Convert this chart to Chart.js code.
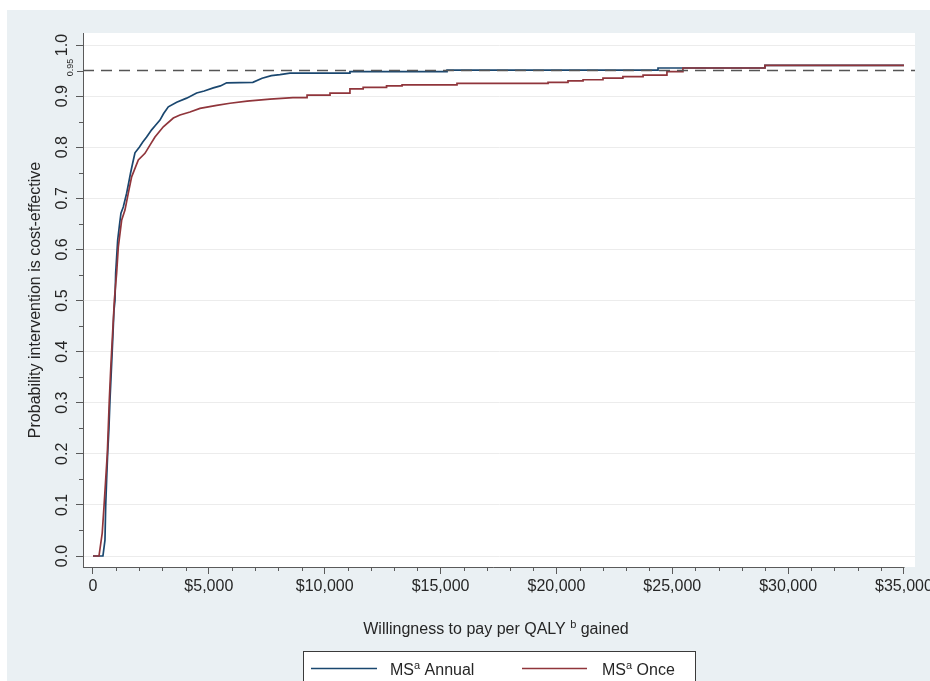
<!DOCTYPE html>
<html>
<head>
<meta charset="utf-8">
<title>Cost-effectiveness acceptability curves</title>
<script src="https://cdn.jsdelivr.net/npm/chart.js@4.4.1/dist/chart.umd.min.js"></script>
<style>
  html, body { margin: 0; padding: 0; background: #ffffff; }
  canvas { display: block; }
</style>
</head>
<body>
<canvas id="ceac" width="930" height="681"></canvas>
<script>
// Curve vertices: willingness to pay ($ per QALY) and the probability that the
// intervention is cost-effective. Where a threshold appears twice, the curve
// steps up at that threshold.
const annualWtp = [0, 430, 518, 548, 590, 634, 690, 734, 800, 860, 906, 950, 980, 1066, 1150, 1208, 1308, 1453, 1540, 1625, 1720, 1813, 2000, 2150, 2316, 2532, 2700, 2892, 3050, 3252, 3612, 4043, 4475, 4800, 5193, 5500, 5770, 6900, 7300, 7700, 8070, 8500, 11090, 11090, 15280, 15280, 24385, 24385, 29000, 29000, 35000];
const annualProb = [0, 0, 0.031, 0.096, 0.15, 0.2, 0.25, 0.305, 0.37, 0.43, 0.48, 0.5, 0.554, 0.618, 0.65, 0.671, 0.683, 0.71, 0.73, 0.75, 0.77, 0.789, 0.8, 0.81, 0.82, 0.834, 0.843, 0.853, 0.866, 0.879, 0.888, 0.896, 0.906, 0.91, 0.916, 0.92, 0.926, 0.927, 0.935, 0.94, 0.942, 0.945, 0.945, 0.948, 0.948, 0.951, 0.951, 0.955, 0.955, 0.96, 0.96];

const onceWtp = [0, 260, 400, 475, 550, 619, 660, 705, 770, 840, 900, 921, 1022, 1094, 1237, 1381, 1525, 1669, 1957, 2244, 2460, 2676, 3036, 3468, 3755, 4187, 4618, 5338, 5913, 6650, 7640, 8630, 9240, 9240, 10230, 10230, 11090, 11090, 11660, 11660, 12670, 12670, 13340, 13340, 15710, 15710, 19640, 19640, 20500, 20500, 21150, 21150, 22010, 22010, 22870, 22870, 23740, 23740, 24770, 24770, 25460, 25460, 29000, 29000, 35000];
const onceProb = [0, 0, 0.045, 0.096, 0.15, 0.2, 0.25, 0.305, 0.37, 0.43, 0.48, 0.5, 0.554, 0.605, 0.657, 0.677, 0.71, 0.742, 0.775, 0.788, 0.804, 0.82, 0.84, 0.857, 0.863, 0.869, 0.876, 0.882, 0.886, 0.89, 0.894, 0.897, 0.897, 0.902, 0.902, 0.906, 0.906, 0.914, 0.914, 0.917, 0.917, 0.92, 0.92, 0.922, 0.922, 0.925, 0.925, 0.927, 0.927, 0.93, 0.93, 0.932, 0.932, 0.935, 0.935, 0.938, 0.938, 0.941, 0.941, 0.948, 0.948, 0.955, 0.955, 0.96, 0.96];

const seriesNames = ['Annual', 'Once'];
const threshold = 0.95;

const xTicks = [0, 5000, 10000, 15000, 20000, 25000, 30000, 35000];
const xMinorTicks = [1000, 2000, 3000, 4000, 6000, 7000, 8000, 9000, 11000, 12000, 13000, 14000, 16000, 17000, 18000, 19000, 21000, 22000, 23000, 24000, 26000, 27000, 28000, 29000, 31000, 32000, 33000, 34000];
const yTicks = [0, 0.1, 0.2, 0.3, 0.4, 0.5, 0.6, 0.7, 0.8, 0.9, 1.0];
const yMinorTicks = [0.05, 0.15, 0.25, 0.35, 0.45, 0.55, 0.65, 0.75, 0.85, 0.95];

const xMin = -430, xMax = 35475;
const yMin = -0.0215, yMax = 1.0235;

const FONT = "'Liberation Sans', Arial, Helvetica, sans-serif";
const TEXT = '#262626';
const AXIS = '#5a5a5a';
const BLUE = '#1a476f';
const RED = '#90353b';

const pairs = (xs, ys) => xs.map((x, i) => ({ x: x, y: ys[i] }));

// Writes a run of text pieces; pieces with `raise` are set as superscripts.
function drawSuperText(ctx, parts, x, y) {
  let cx = x;
  parts.forEach(p => {
    ctx.font = p.size + 'px ' + FONT;
    ctx.fillText(p.text, cx, y - (p.raise || 0));
    cx += ctx.measureText(p.text).width;
  });
  return cx;
}
function superWidth(ctx, parts) {
  let w = 0;
  parts.forEach(p => { ctx.font = p.size + 'px ' + FONT; w += ctx.measureText(p.text).width; });
  return w;
}

const framePlugin = {
  id: 'frame',
  beforeDraw(chart) {
    const { ctx, chartArea: a } = chart;
    ctx.save();
    ctx.fillStyle = '#ffffff';
    ctx.fillRect(0, 0, chart.width, chart.height);
    ctx.fillStyle = 'rgb(234,240,243)';
    ctx.fillRect(7, 10, chart.width - 7, chart.height - 10);
    ctx.fillStyle = '#ffffff';
    ctx.fillRect(a.left, a.top, a.right - a.left, a.bottom - a.top);
    ctx.restore();
  },
  afterDraw(chart) {
    const { ctx, chartArea: a } = chart;
    const xs = chart.scales.x, ys = chart.scales.y;
    ctx.save();
    // x axis line, from the plot edge to the last labelled tick
    ctx.strokeStyle = AXIS;
    ctx.lineWidth = 1;
    ctx.beginPath();
    ctx.moveTo(a.left, a.bottom + 0.5);
    ctx.lineTo(Math.round(xs.getPixelForValue(xTicks[xTicks.length - 1])) + 0.5, a.bottom + 0.5);
    ctx.stroke();
    // minor ticks
    ctx.beginPath();
    xMinorTicks.forEach(v => {
      const px = Math.round(xs.getPixelForValue(v)) + 0.5;
      ctx.moveTo(px, a.bottom);
      ctx.lineTo(px, a.bottom + 4);
    });
    yMinorTicks.forEach(v => {
      const py = Math.round(ys.getPixelForValue(v)) + 0.5;
      ctx.moveTo(a.left, py);
      ctx.lineTo(a.left - (v === threshold ? 6 : 4), py);
    });
    ctx.stroke();

    // small label for the 0.95 reference level
    ctx.fillStyle = TEXT;
    ctx.font = '9px ' + FONT;
    ctx.textAlign = 'center';
    ctx.textBaseline = 'middle';
    ctx.translate(71, ys.getPixelForValue(threshold) - 3);
    ctx.rotate(-Math.PI / 2);
    ctx.fillText(threshold.toFixed(2), 0, 0);
    ctx.restore();

    // x axis title with superscript
    ctx.save();
    ctx.fillStyle = TEXT;
    ctx.textBaseline = 'alphabetic';
    ctx.textAlign = 'left';
    const title = [
      { text: 'Willingness to pay per QALY ', size: 16 },
      { text: 'b', size: 11, raise: 6 },
      { text: ' gained', size: 16 }
    ];
    const tw = superWidth(ctx, title);
    drawSuperText(ctx, title, (a.left + a.right) / 2 - tw / 2 - 3, 634);

    // legend box
    ctx.fillStyle = '#ffffff';
    ctx.fillRect(303.5, 651.5, 392, 40);
    ctx.strokeStyle = '#3a3a3a';
    ctx.lineWidth = 1;
    ctx.strokeRect(303.5, 651.5, 392, 40);
    const items = [
      { color: BLUE, x0: 311, x1: 377, tx: 390, name: seriesNames[0] },
      { color: RED, x0: 522, x1: 587, tx: 602, name: seriesNames[1] }
    ];
    items.forEach(it => {
      ctx.strokeStyle = it.color;
      ctx.lineWidth = 1.6;
      ctx.beginPath();
      ctx.moveTo(it.x0, 668.5);
      ctx.lineTo(it.x1, 668.5);
      ctx.stroke();
      ctx.fillStyle = TEXT;
      drawSuperText(ctx, [
        { text: 'MS', size: 16 },
        { text: 'a', size: 11, raise: 6 },
        { text: ' ' + it.name, size: 16 }
      ], it.tx, 675);
    });
    ctx.restore();
  }
};

new Chart(document.getElementById('ceac'), {
  type: 'line',
  data: {
    datasets: [
      {
        label: 'MS Annual',
        data: pairs(annualWtp, annualProb),
        borderColor: BLUE,
        borderWidth: 1.7,
        pointRadius: 0,
        tension: 0,
        fill: false,
        order: 2
      },
      {
        label: 'MS Once',
        data: pairs(onceWtp, onceProb),
        borderColor: RED,
        borderWidth: 1.7,
        pointRadius: 0,
        tension: 0,
        fill: false,
        order: 1
      },
      {
        label: 'Threshold',
        data: [{ x: xMin, y: threshold }, { x: xMax, y: threshold }],
        borderColor: '#555555',
        borderWidth: 1.4,
        borderDash: [11, 7],
        pointRadius: 0,
        fill: false,
        order: 0
      }
    ]
  },
  options: {
    responsive: false,
    animation: false,
    devicePixelRatio: 1,
    layout: { padding: { top: 33, right: 15, left: 0, bottom: 0 } },
    plugins: {
      legend: { display: false },
      tooltip: { enabled: false }
    },
    scales: {
      x: {
        type: 'linear',
        min: xMin,
        max: xMax,
        afterBuildTicks: s => { s.ticks = xTicks.map(v => ({ value: v })); },
        afterFit: s => { s.height = 114; s.paddingLeft = 0; s.paddingRight = 0; },
        ticks: {
          padding: 3,
          maxRotation: 0,
          autoSkip: false,
          color: TEXT,
          font: { family: FONT, size: 16 },
          callback: v => v === 0 ? '0' : '$' + v.toLocaleString('en-US')
        },
        grid: { drawOnChartArea: false, drawTicks: true, tickLength: 7, tickColor: AXIS },
        border: { display: false }
      },
      y: {
        type: 'linear',
        min: yMin,
        max: yMax,
        afterBuildTicks: s => { s.ticks = yTicks.map(v => ({ value: v })); },
        afterFit: s => { s.width = 83; s.paddingTop = 0; s.paddingBottom = 0; },
        ticks: {
          padding: 2,
          minRotation: 90,
          maxRotation: 90,
          crossAlign: 'center',
          autoSkip: false,
          color: TEXT,
          font: { family: FONT, size: 16 },
          callback: v => v.toFixed(1)
        },
        grid: { color: '#ececec', lineWidth: 1, tickLength: 7, tickColor: AXIS },
        border: { display: true, color: AXIS, width: 1 },
        title: {
          display: true,
          text: 'Probability intervention is cost-effective',
          color: TEXT,
          font: { family: FONT, size: 16 },
          padding: { top: 26, bottom: 0 }
        }
      }
    }
  },
  plugins: [framePlugin]
});
</script>
</body>
</html>
